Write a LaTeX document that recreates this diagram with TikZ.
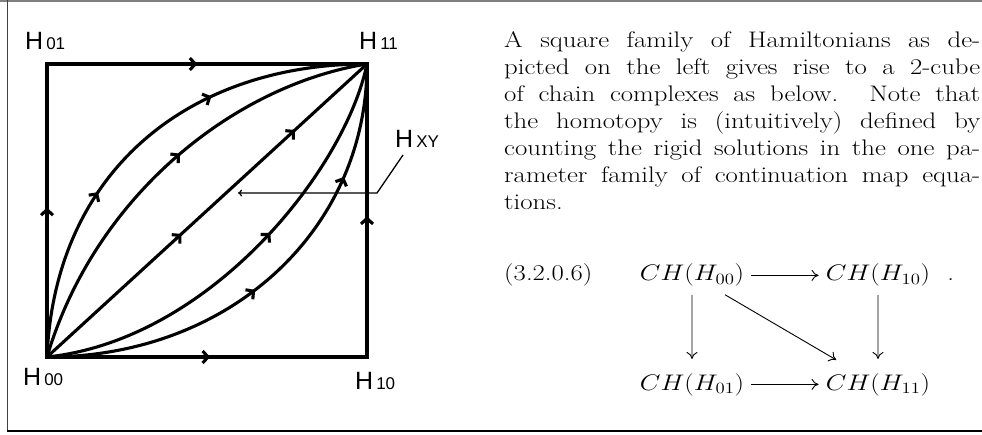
\RequirePackage{fix-cm}
\documentclass[tikz,border=0pt]{standalone}
\usepackage{fontspec}
\newfontfamily\lblfont{Liberation Sans}
\usetikzlibrary{arrows.meta,decorations.markings}

% label H with small index on the baseline
\newcommand{\hlab}[1]{{\lblfont\fontsize{25}{25}\selectfont H\kern3pt\fontsize{17}{17}\selectfont #1}}

\tikzset{
  hpath/.style={line width=3.1pt},
  arrat/.style={postaction={decorate,decoration={markings,
      mark=at position #1 with {\arrow{Straight Barb[length=5.5pt,width=12pt]}}}}},
  lbl/.style={anchor=base west,inner sep=0pt},
  bodytxt/.style={anchor=base west,inner sep=0pt,xscale=1.19,transform shape,
    font=\fontsize{22.5}{27}\selectfont},
  cplx/.style={anchor=base,inner xsep=6pt,inner ysep=8pt,xscale=1.19,transform shape,
    font=\fontsize{22.5}{27}\selectfont},
  cdarrow/.style={line width=0.9pt,-{To[length=7pt,width=11pt]}},
}

\begin{document}
\begin{tikzpicture}[x=1pt,y=-1pt]
    \useasboundingbox (0,0) rectangle (982,435);

    % frame of the page
    \draw[gray,line width=2.5pt] (0,1.2) -- (982,1.2);
    \draw[black!75,line width=1.5pt] (7.5,0) -- (7.5,431);
    \draw[line width=2pt] (7,430.5) -- (982,430.5);

    % corners of the square
    \coordinate (h00) at (47,357);
    \coordinate (h10) at (367,357);
    \coordinate (h01) at (47,64);
    \coordinate (h11) at (367,64);

    % sides
    \draw[hpath,line cap=rect,arrat=0.51] (h00) -- (h10);
    \draw[hpath,line cap=rect,arrat=0.48] (h10) -- (h11);
    \draw[hpath,line cap=rect,arrat=0.51] (h00) -- (h01);
    \draw[hpath,line cap=rect,arrat=0.47] (h01) -- (h11);

    % family of paths from H00 to H11
    \draw[hpath,arrat=0.36,arrat=0.67] (h00) .. controls (55,170) and (190,64) .. (h11);
    \draw[hpath,arrat=0.54] (h00) .. controls (95,195) and (235,85) .. (h11);
    \draw[hpath,arrat=0.42,arrat=0.775] (h00) -- (h11);
    \draw[hpath,arrat=0.57] (h00) .. controls (210,340) and (345,170) .. (h11);
    \draw[hpath,arrat=0.46,arrat=0.76] (h00) .. controls (230,357) and (367,230) .. (h11);

    % labels
    \node[lbl] (l01) at (25,50) {\hlab{01}};
    \node[lbl] (l11) at (359,50) {\hlab{11}};
    \node[lbl] (l00) at (23,385) {\hlab{00}};
    \node[lbl] (l10) at (355,389) {\hlab{10}};
    \node[lbl] (lxy) at (395,148) {\hlab{XY}};

    % leader to the family
    \coordinate (bend) at (377,193);
    \coordinate (tip) at (238,193);
    \draw[line width=1.3pt,-{To[length=4pt,width=7pt]}] ([shift={(8,7)}]lxy.base west) -- (bend) -- (tip);

    % text on the right
    \node[bodytxt] (body) at (504,48) {\parbox[t]{400pt}{\tolerance=10000\hbadness=10000
      A square family of Hamiltonians as de-\linebreak
      picted on the left gives rise to a 2-cube\linebreak
      of chain complexes as below. Note that\linebreak
      the homotopy is (intuitively) defined by\linebreak
      counting the rigid solutions in the one pa-\linebreak
      rameter family of continuation map equa-\linebreak
      tions.}};

    % square of chain complexes
    \node[bodytxt] (eqno) at (504,281) {(3.2.0.6)};
    \node[cplx] (c00) at (692,281) {$CH(H_{00})$};
    \node[cplx] (c10) at (878,281) {$CH(H_{10})$};
    \node[bodytxt] (dot) at (947,281) {.};
    \node[cplx] (c01) at (692,390) {$CH(H_{01})$};
    \node[cplx] (c11) at (878,390) {$CH(H_{11})$};

    \draw[cdarrow] (c00) -- (c10);
    \draw[cdarrow] (c01) -- (c11);
    \draw[cdarrow,shorten >=6pt] (c00) -- (c01);
    \draw[cdarrow,shorten >=6pt] (c10) -- (c11);
    \draw[cdarrow,shorten >=10pt] (c00) -- (c11);
\end{tikzpicture}
\end{document}
